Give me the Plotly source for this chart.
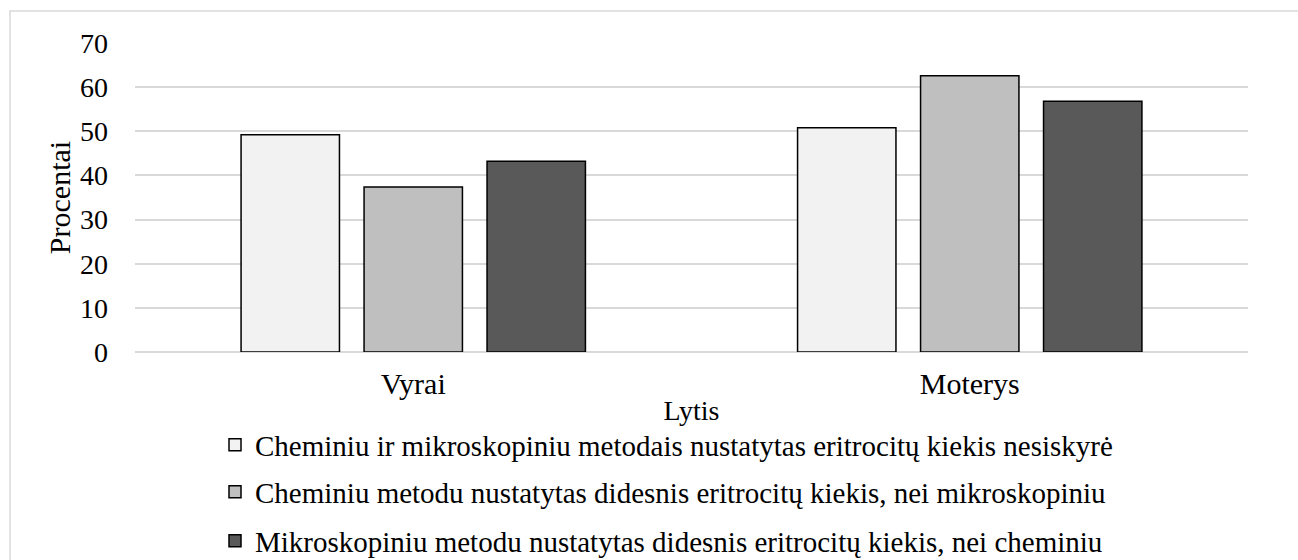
import plotly.graph_objects as go

# Category axis and series
categories = ["Vyrai", "Moterys"]
series_names = [
    "Cheminiu ir mikroskopiniu metodais nustatytas eritrocitų kiekis nesiskyrė",
    "Cheminiu metodu nustatytas didesnis eritrocitų kiekis, nei mikroskopiniu",
    "Mikroskopiniu metodu nustatytas didesnis eritrocitų kiekis, nei cheminiu",
]
same_values = [49.2, 50.8]
chem_higher = [37.4, 62.6]
micro_higher = [43.2, 56.8]
y_ticks = [0, 10, 20, 30, 40, 50, 60, 70]

series_values = [same_values, chem_higher, micro_higher]
fills = ["#f2f2f2", "#bfbfbf", "#595959"]

W, H = 1298, 560
L, R, T, B = 135, 50, 43, 208
pw, ph = W - L - R, H - T - B

FONT = "Liberation Serif"

fig = go.Figure()
legend_names = ["legend", "legend2", "legend3"]
for name, vals, col, lg in zip(series_names, series_values, fills, legend_names):
    fig.add_trace(go.Bar(
        x=categories, y=vals, name=name,
        marker=dict(color=col, line=dict(color="black", width=1.5)),
        legend=lg,
    ))

def py(pixel_y):
    return (H - B - pixel_y) / ph

def px(pixel_x):
    return (pixel_x - L) / pw

legend_rows = [445, 492, 541]
legend_common = dict(
    font=dict(family=FONT, size=29, color="black"),
    bgcolor="rgba(0,0,0,0)",
    xanchor="left", yanchor="middle",
    itemwidth=30,
)
layout_legends = {}
for lg, row in zip(legend_names, legend_rows):
    layout_legends[lg] = dict(x=px(215), y=py(row), **legend_common)

fig.update_layout(
    width=W, height=H,
    margin=dict(l=L, r=R, t=T, b=B, autoexpand=False),
    paper_bgcolor="white", plot_bgcolor="white",
    barmode="group", bargap=0.337, bargroupgap=0.2,
    font=dict(family=FONT, color="black"),
    showlegend=True,
    xaxis=dict(
        showgrid=False, showline=False, zeroline=False, automargin=False,
        tickfont=dict(family=FONT, size=30),
        ticklabelstandoff=11,
        title=dict(text="Lytis", font=dict(family=FONT, size=28), standoff=1),
    ),
    yaxis=dict(
        range=[0, 70], tickvals=y_ticks, showgrid=True, automargin=False,
        gridcolor="#d9d9d9", gridwidth=1.5, zeroline=True,
        zerolinecolor="#d9d9d9", zerolinewidth=1.5, showline=False,
        tickfont=dict(family=FONT, size=28), ticklabelstandoff=26,
        title=dict(text="Procentai", font=dict(family=FONT, size=30), standoff=0),
    ),
    shapes=[dict(
        type="rect", xref="paper", yref="paper",
        x0=px(10), x1=px(W + 20), y0=py(H + 20), y1=py(11),
        line=dict(color="#d9d9d9", width=1.5), fillcolor="rgba(0,0,0,0)",
        layer="below",
    )],
    **layout_legends,
)

fig.write_html("out.html")
